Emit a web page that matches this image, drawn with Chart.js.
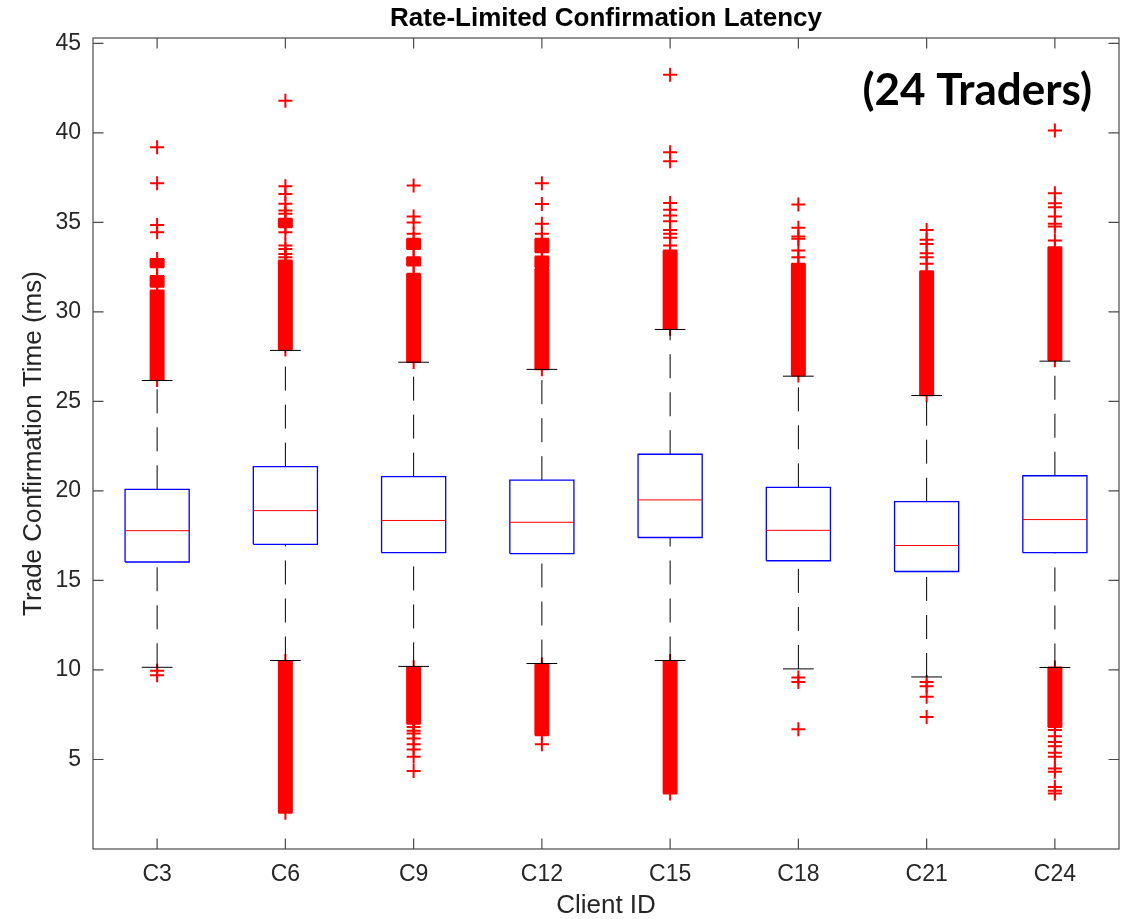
<!DOCTYPE html>
<html>
<head>
<meta charset="utf-8">
<script src="https://cdn.jsdelivr.net/npm/chart.js@4.4.1/dist/chart.umd.min.js"></script>
<style>
  html, body { margin: 0; padding: 0; background: #fff; }
  #wrap { width: 1128px; height: 919px; }
</style>
</head>
<body>
<div id="wrap"><canvas id="myChart"></canvas></div>
<script>
const clients = ["C3", "C6", "C9", "C12", "C15", "C18", "C21", "C24"];
const q1 = [16.03, 17.02, 16.55, 16.5, 17.4, 16.1, 15.5, 16.55];
const medians = [17.78, 18.9, 18.35, 18.25, 19.5, 17.8, 16.95, 18.4];
const q3 = [20.09, 21.36, 20.8, 20.6, 22.05, 20.2, 19.4, 20.85];
const lowerWhisker = [10.15, 10.53, 10.2, 10.36, 10.53, 10.06, 9.61, 10.14];
const upperWhisker = [26.17, 27.85, 27.19, 26.79, 29.02, 26.41, 25.33, 27.25];

// runs of outliers so close together that the crosses merge into a solid bar: [from, to]
const outlierRuns = [
  [[26.2, 31.2], [31.4, 32.0], [32.5, 32.95]],
  [[2.02, 10.5], [27.9, 32.87], [34.73, 35.2]],
  [[7.0, 10.15], [27.2, 32.13], [32.59, 33.05], [33.52, 34.08]],
  [[6.36, 10.3], [26.8, 32.41], [32.5, 33.09], [33.33, 34.08]],
  [[3.1, 10.5], [29.05, 33.43]],
  [[26.45, 32.69]],
  [[25.35, 32.27]],
  [[6.82, 10.14], [27.3, 33.61]]
];

// separate outlier crosses
const outlierPoints = [
  [9.95, 9.7, 34.45, 34.85, 37.19, 39.2],
  [33.05, 33.24, 33.52, 33.71, 34.45, 35.48, 35.66, 36.04, 36.59, 37.02, 41.8],
  [6.82, 6.6, 6.45, 6.17, 5.85, 5.56, 5.15, 4.36, 34.36, 35.0, 35.33, 37.06],
  [5.85, 34.36, 34.92, 36.03, 37.19],
  [33.71, 34.14, 34.36, 34.58, 35.06, 35.38, 35.7, 36.09, 38.41, 38.92, 43.25],
  [9.58, 9.33, 6.69, 33.05, 33.43, 34.08, 34.21, 34.7, 36.0],
  [9.33, 9.09, 8.5, 7.38, 32.69, 33.05, 33.28, 33.8, 34.03, 34.58],
  [6.64, 6.3, 5.98, 5.74, 5.37, 5.15, 4.5, 4.31, 3.47, 3.25, 3.1, 33.99, 34.77, 34.92, 35.33, 35.85, 36.07, 36.63, 40.13]
];

const yTicks = [5, 10, 15, 20, 25, 30, 35, 40, 45];

const BOX_HALF = 0.25;
const CAP_HALF = 0.12;
const TEXT = "#262626";
const FONT = "'Liberation Sans', Arial, Helvetica, sans-serif";

const boxLines = [];
const medianLines = [];
const whiskerLines = [];
const capLines = [];
const runLines = [];
const crosses = [];

clients.forEach((c, i) => {
  const x = i + 1;
  boxLines.push(
    { x: x - BOX_HALF, y: q1[i] }, { x: x + BOX_HALF, y: q1[i] },
    { x: x + BOX_HALF, y: q3[i] }, { x: x - BOX_HALF, y: q3[i] },
    { x: x - BOX_HALF, y: q1[i] }, { x: x, y: null }
  );
  medianLines.push({ x: x - BOX_HALF, y: medians[i] }, { x: x + BOX_HALF, y: medians[i] }, { x: x, y: null });
  whiskerLines.push(
    { x: x, y: lowerWhisker[i] }, { x: x, y: q1[i] }, { x: x, y: null },
    { x: x, y: q3[i] }, { x: x, y: upperWhisker[i] }, { x: x, y: null }
  );
  capLines.push(
    { x: x - CAP_HALF, y: lowerWhisker[i] }, { x: x + CAP_HALF, y: lowerWhisker[i] }, { x: x, y: null },
    { x: x - CAP_HALF, y: upperWhisker[i] }, { x: x + CAP_HALF, y: upperWhisker[i] }, { x: x, y: null }
  );
  outlierRuns[i].forEach(([from, to]) => {
    runLines.push({ x: x, y: from }, { x: x, y: to }, { x: x, y: null });
    crosses.push({ x: x, y: from }, { x: x, y: to });
  });
  outlierPoints[i].forEach((v) => crosses.push({ x: x, y: v }));
});

const lineSet = (data, color, width, extra) =>
  Object.assign({
    data: data,
    showLine: true,
    borderColor: color,
    borderWidth: width,
    pointRadius: 0,
    spanGaps: false,
    fill: false
  }, extra || {});

// axes box, inward ticks, title centred on the plot area and the annotation
const frame = {
  id: "frame",
  afterDraw(chart) {
    const { ctx, chartArea: a, scales: { x, y } } = chart;
    ctx.save();
    ctx.strokeStyle = "#4a4a4a";
    ctx.lineWidth = 1.2;
    ctx.strokeRect(a.left, a.top, a.right - a.left, a.bottom - a.top);
    const len = 10.5;
    ctx.beginPath();
    x.ticks.forEach((t) => {
      const px = x.getPixelForValue(t.value);
      ctx.moveTo(px, a.bottom); ctx.lineTo(px, a.bottom - len);
      ctx.moveTo(px, a.top); ctx.lineTo(px, a.top + len);
    });
    y.ticks.forEach((t) => {
      const py = y.getPixelForValue(t.value);
      ctx.moveTo(a.left, py); ctx.lineTo(a.left + len, py);
      ctx.moveTo(a.right, py); ctx.lineTo(a.right - len, py);
    });
    ctx.stroke();

    ctx.fillStyle = "#000";
    ctx.textAlign = "center";
    ctx.textBaseline = "middle";
    ctx.font = "bold 26px " + FONT;
    ctx.fillText("Rate-Limited Confirmation Latency", (a.left + a.right) / 2, a.top - 19);

    ctx.font = "bold 44px Lato, 'Open Sans', sans-serif";
    ctx.textAlign = "right";
    ctx.textBaseline = "alphabetic";
    ctx.fillText("(24 Traders)", a.right - 27, a.top + 67);
    ctx.restore();
  }
};

const config = {
  type: "scatter",
  data: {
    datasets: [
      lineSet(capLines, "#000000", 1),
      lineSet(medianLines, "#ff0000", 1),
      lineSet(boxLines, "#0000ff", 1.3, { borderJoinStyle: "miter" }),
      lineSet(whiskerLines, "#000000", 1, { borderDash: [24, 14] }),
      {
        data: crosses,
        showLine: false,
        pointStyle: "cross",
        pointRadius: 7,
        pointBorderWidth: 2,
        pointBorderColor: "#ff0000",
        pointBackgroundColor: "#ff0000"
      },
      lineSet(runLines, "#ff0000", 15, { borderCapStyle: "butt" })
    ]
  },
  options: {
    responsive: true,
    maintainAspectRatio: false,
    animation: false,
    devicePixelRatio: 1,
    layout: { padding: { left: 0, right: 7, top: 38, bottom: 0 } },
    plugins: {
      legend: { display: false },
      tooltip: { enabled: false },
      title: { display: false }
    },
    scales: {
      x: {
        type: "linear",
        min: 0.5,
        max: 8.5,
        offset: false,
        afterBuildTicks: (s) => {
          s.ticks = clients.map((c, i) => ({ value: i + 1 }));
        },
        afterFit: (s) => {
          s.height = 70;
        },
        grid: { display: false, drawTicks: false },
        border: { display: false },
        ticks: {
          autoSkip: false,
          maxRotation: 0,
          padding: 12,
          color: TEXT,
          font: { family: FONT, size: 23 },
          callback: (v) => clients[v - 1]
        },
        title: {
          display: true,
          text: "Client ID",
          color: TEXT,
          font: { family: FONT, size: 26, lineHeight: 1 },
          padding: { top: 0, bottom: 0 }
        }
      },
      y: {
        min: 0,
        max: 45.3,
        afterBuildTicks: (s) => {
          s.ticks = yTicks.map((v) => ({ value: v }));
        },
        afterFit: (s) => {
          s.width = 93;
        },
        grid: { display: false, drawTicks: false },
        border: { display: false },
        ticks: {
          padding: 12,
          color: TEXT,
          font: { family: FONT, size: 23 }
        },
        title: {
          display: true,
          text: "Trade Confirmation Time (ms)",
          color: TEXT,
          font: { family: FONT, size: 26, lineHeight: 1 },
          padding: { top: 21, bottom: 0 }
        }
      }
    }
  },
  plugins: [frame]
};

new Chart(document.getElementById("myChart"), config);
</script>
</body>
</html>
